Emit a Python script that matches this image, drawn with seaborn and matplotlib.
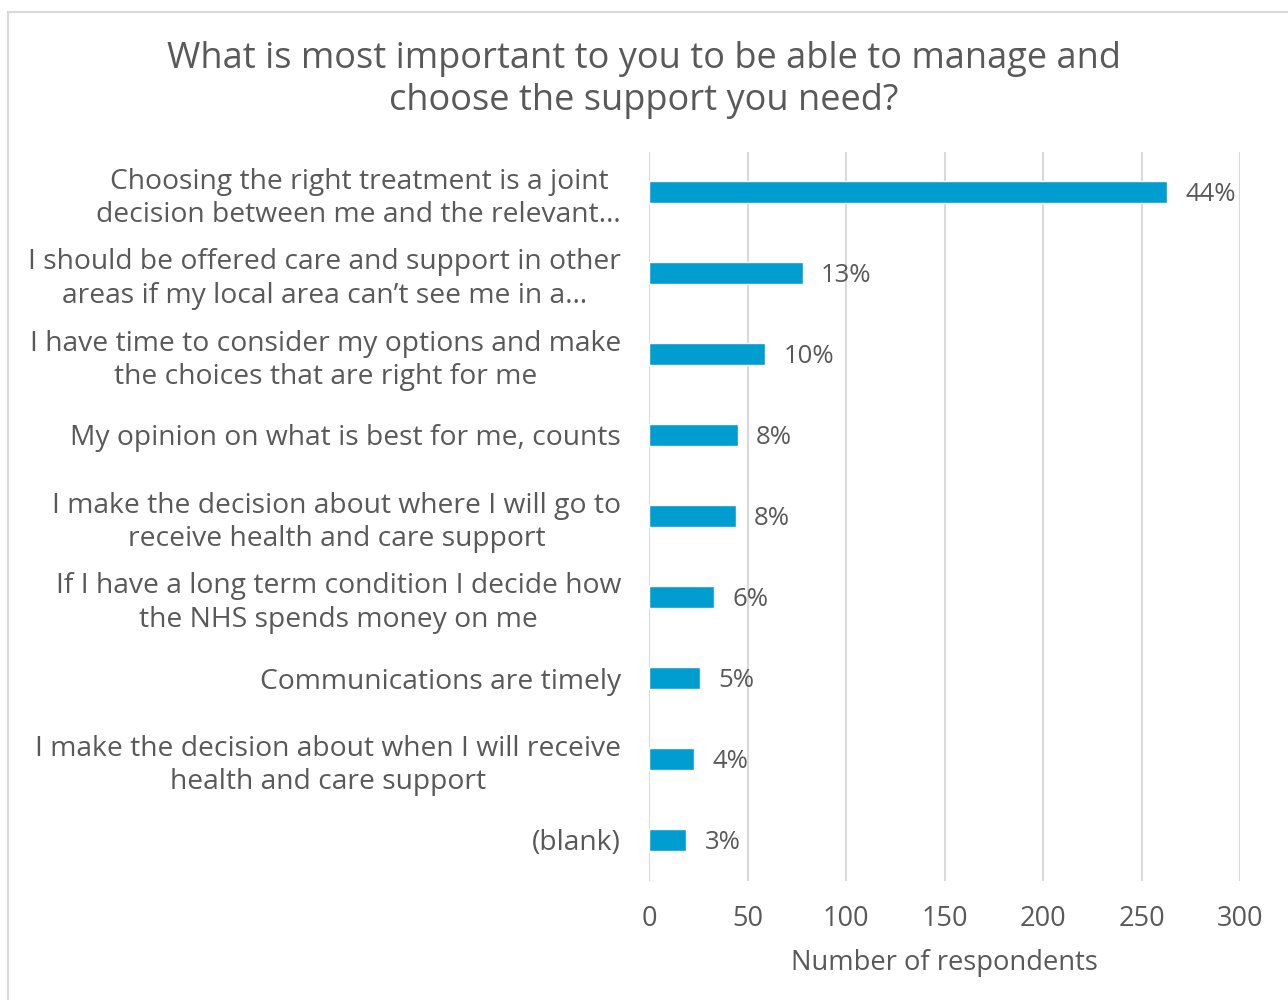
import matplotlib
matplotlib.use("Agg")
import matplotlib.pyplot as plt
from matplotlib import font_manager
from matplotlib.patches import Rectangle
import seaborn as sns
import pandas as pd

# ---- data ----
categories = [
    "Choosing the right treatment is a joint\ndecision between me and the relevant…",
    "I should be offered care and support in other\nareas if my local area can’t see me in a…",
    "I have time to consider my options and make\nthe choices that are right for me",
    "My opinion on what is best for me, counts",
    "I make the decision about where I will go to\nreceive health and care support",
    "If I have a long term condition I decide how\nthe NHS spends money on me",
    "Communications are timely",
    "I make the decision about when I will receive\nhealth and care support",
    "(blank)",
]
respondents = [263, 78, 59, 45, 44, 33, 26, 23, 19]
share_labels = ["44%", "13%", "10%", "8%", "8%", "6%", "5%", "4%", "3%"]
x_ticks = [0, 50, 100, 150, 200, 250, 300]

title = "What is most important to you to be able to manage and\nchoose the support you need?"
x_label = "Number of respondents"

# ---- style ----
BAR = "#009DD1"
TEXT = "#595959"
GRID = "#D9D9D9"

installed = {f.name for f in font_manager.fontManager.ttflist}
family = next((f for f in ["Open Sans", "DejaVu Sans"] if f in installed), "DejaVu Sans")

cat_fs = 20.3
tick_fs = 19.5
xlab_fs = 19.7
val_fs = 18.5
title_fs = 26

sns.set_theme(style="white")
plt.rcParams["font.family"] = [family, "DejaVu Sans"]

df = pd.DataFrame({"category": categories, "respondents": respondents})

fig = plt.figure(figsize=(12.88, 10), dpi=100)
ax = fig.add_axes([649 / 1288, 1 - 880.5 / 1000, 591 / 1288, 729 / 1000])

sns.barplot(data=df, x="respondents", y="category", orient="h",
            color=BAR, width=0.26, saturation=1, ax=ax, zorder=3)

ax.set_xlim(0, 300)
ax.set_xticks(x_ticks)
ax.set_xticklabels([str(t) for t in x_ticks])
ax.grid(axis="x", color=GRID, linewidth=1.5, zorder=0)
ax.grid(axis="y", visible=False)
for s in ax.spines.values():
    s.set_visible(False)

ax.tick_params(axis="x", length=0, pad=18, labelsize=tick_fs, labelcolor=TEXT)
ax.tick_params(axis="y", length=0, pad=20, labelsize=cat_fs, labelcolor=TEXT)
for lbl in ax.get_yticklabels():
    lbl.set_multialignment("center")
    lbl.set_linespacing(1.25)

ax.set_ylabel("")
ax.set_xlabel(x_label, fontsize=xlab_fs, color=TEXT, labelpad=11.5)

# share of respondents at the end of each bar
for i, (v, s) in enumerate(zip(respondents, share_labels)):
    ax.annotate(s, xy=(v, i), xytext=(13, -2), textcoords="offset points",
                ha="left", va="center", fontsize=val_fs, color=TEXT)

fig.text(0.5, 1 - 80 / 1000, title, ha="center", va="center",
         fontsize=title_fs, color=TEXT, linespacing=1.25)

# chart frame
fig.patches.append(Rectangle((8 / 1288, -0.05), 1.1, 1 - 12 / 1000 + 0.05,
                             transform=fig.transFigure, fill=False,
                             edgecolor=GRID, linewidth=1.5))

fig.savefig("out.png", dpi=100, facecolor="white")
